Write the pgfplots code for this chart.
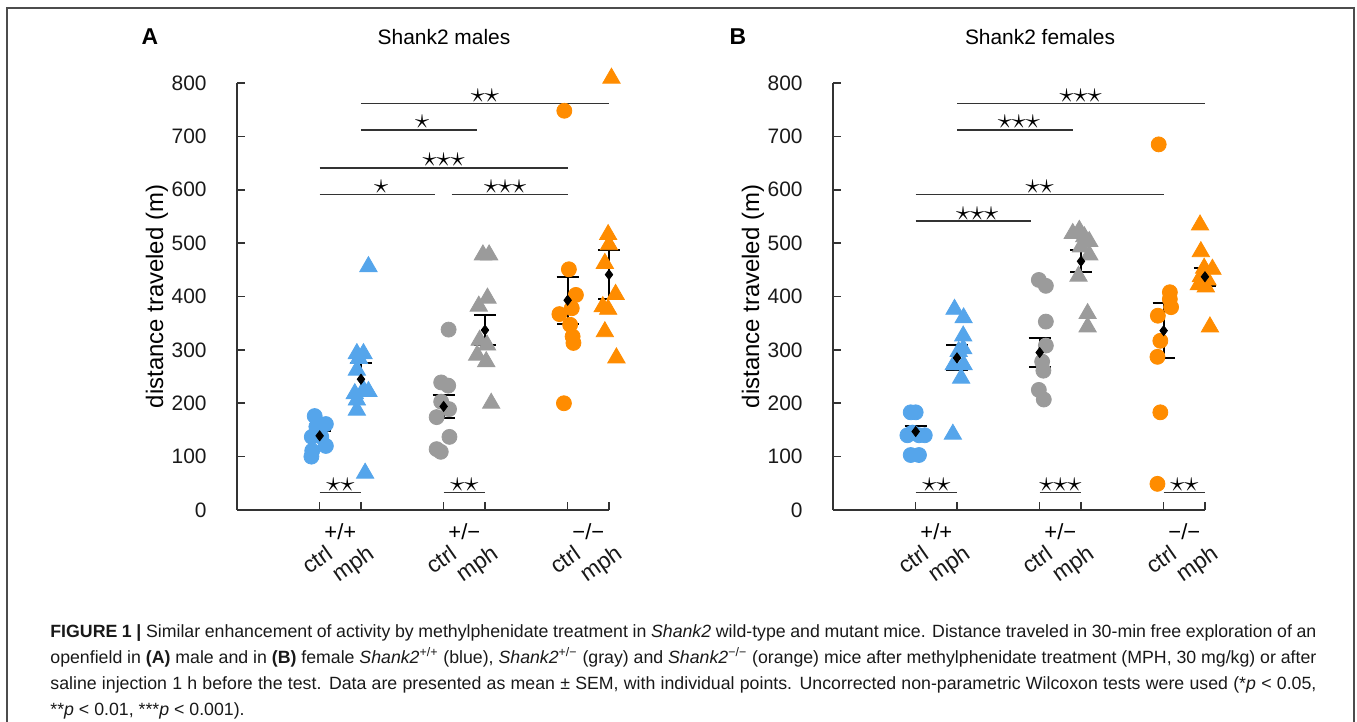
\documentclass[border=0pt]{standalone}
\usepackage{fontspec}
\setmainfont{Liberation Sans}
\usepackage{pgfplots}
\pgfplotsset{compat=1.18}
\definecolor{cblue}{HTML}{55A5EB}
\definecolor{corange}{HTML}{FF8C00}
\definecolor{cgray}{HTML}{9B9B9B}
\definecolor{axc}{HTML}{333333}
\pgfplotsset{
 myaxis/.style={
  scale only axis, width=186bp, height=213.5bp,
  xmin=-2, xmax=7, ymin=0, ymax=800,
  axis lines=left, axis line style={-, line width=0.75bp, color=axc},
  tick align=inside, major tick length=4bp, tick style={line width=0.75bp, color=axc},
  xtick={0,1,3,4,6,7}, xticklabels={ctrl,mph,ctrl,mph,ctrl,mph},
  ytick={0,100,...,800},
  clip=false,
  ticklabel style={font=\fontsize{10.5}{12}\selectfont, text=black!90},
  yticklabel style={anchor=east, inner sep=0pt, xshift=-15bp},
  xticklabel style={inner sep=0pt, anchor=north east, yshift=-16.5bp, xshift=2.5bp, rotate=35, font=\fontsize{11.5}{12}\selectfont},
  ylabel={distance traveled (m)},
  ylabel style={at={(axis description cs:-0.215,0.5)}, anchor=center, font=\fontsize{12}{14}\selectfont},
  /pgf/number format/assume math mode=true,
 },
 circ/.style={color=#1, only marks, mark=*, mark size=3.75bp, mark options={draw=none, fill=#1}},
 tri/.style={color=#1, only marks, mark=triangle*, mark size=5bp, mark options={draw=none, fill=#1}},
 meanbar/.style={black, only marks, mark=diamond*, mark size=2.5bp,
   error bars/.cd, y dir=both, y explicit,
   error bar style={line width=1bp, black},
   error mark options={rotate=90, mark size=5.5bp, line width=1bp, black}},
 sigline/.style={line width=0.75bp, color=axc, no marks},
}
\tikzset{starnode/.style={anchor=base, inner sep=0pt, yshift=0.5bp, font=\fontsize{15}{15}\selectfont}}
\newcommand\grouplabels{%
  \node[font=\fontsize{11}{12}\selectfont, yshift=-11bp] at (axis cs:0.5,0) {+/+};
  \node[font=\fontsize{11}{12}\selectfont, yshift=-11bp] at (axis cs:3.5,0) {+/−};
  \node[font=\fontsize{11}{12}\selectfont, yshift=-11bp] at (axis cs:6.5,0) {−/−};
}
\begin{document}
\begin{tikzpicture}
\useasboundingbox (0bp,0bp) rectangle (678.5bp,361bp);
\draw[line width=0.75bp, black!70] (3.5bp,-2bp) -- (3.5bp,357bp) -- (677bp,357bp) -- (677bp,-2bp);
\node[font=\bfseries\fontsize{11.5}{12}\selectfont] at (75bp,342.5bp) {A};
\node[font=\fontsize{10.5}{12}\selectfont] at (222bp,342.5bp) {Shank2 males};
\node[font=\bfseries\fontsize{11.5}{12}\selectfont] at (369bp,342.5bp) {B};
\node[font=\fontsize{10.5}{12}\selectfont] at (520bp,342.5bp) {Shank2 females};

% ---------------- Panel A ----------------
\begin{axis}[myaxis, at={(118.5bp,106bp)}, anchor=south west]
\addplot[circ=cblue] coordinates {(-0.12,176) (0.15,161) (-0.08,156) (-0.19,137) (0.04,137) (0.15,120) (-0.18,111) (-0.2,100)};
\addplot[tri=cblue] coordinates {(1.18,456) (0.9,293) (1.06,293) (0.95,284) (0.9,262) (1.18,222) (1.06,225) (0.85,218) (0.9,206) (0.9,187) (1.1,69)};
\addplot[circ=cgray] coordinates {(3.12,338) (2.94,239) (3.11,233) (2.94,203) (3.13,189) (2.83,174) (3.14,137) (2.83,114) (2.93,109)};
\addplot[tri=cgray] coordinates {(3.95,478) (4.1,478) (4.06,397) (3.85,382) (3.87,318) (4.05,309) (3.81,290) (4.03,278) (4.15,200)};
\addplot[circ=corange] coordinates {(5.92,748) (6.03,451) (6.2,403) (6.1,378) (5.8,367) (6.06,347) (6.12,325) (6.14,313) (5.91,200)};
\addplot[tri=corange] coordinates {(7.06,809) (6.98,516) (7,497) (6.9,462) (7.16,404) (6.85,381) (6.98,376) (6.9,334) (7.18,285)};
\addplot[meanbar] coordinates {(0,139) +- (0,9) (1,245) +- (0,31) (3,194) +- (0,22) (4,337) +- (0,28.5) (6,393) +- (0,44) (7,441) +- (0,46)};
\addplot[sigline] coordinates {(1,762) (7,762)};
\node[starnode] at (axis cs:4,762) {${\star}{\star}$};
\addplot[sigline] coordinates {(1,712) (3.8,712)};
\node[starnode] at (axis cs:2.48,712) {${\star}$};
\addplot[sigline] coordinates {(0,641) (6,641)};
\node[starnode] at (axis cs:3,641) {${\star}{\star}{\star}$};
\addplot[sigline] coordinates {(0,591) (2.8,591)};
\node[starnode] at (axis cs:1.49,591) {${\star}$};
\addplot[sigline] coordinates {(3.19,591) (6,591)};
\node[starnode] at (axis cs:4.49,591) {${\star}{\star}{\star}$};
\addplot[sigline] coordinates {(0,32.5) (1,32.5)};
\node[starnode] at (axis cs:0.5,32.5) {${\star}{\star}$};
\addplot[sigline] coordinates {(3,32.5) (4,32.5)};
\node[starnode] at (axis cs:3.5,32.5) {${\star}{\star}$};
\grouplabels
\end{axis}

% ---------------- Panel B ----------------
\begin{axis}[myaxis, at={(416.5bp,106bp)}, anchor=south west]
\addplot[circ=cblue] coordinates {(-0.12,183) (0,183) (-0.2,140) (0.08,140) (-0.08,145) (0.22,140) (-0.12,103) (0.08,103)};
\addplot[tri=cblue] coordinates {(0.94,376) (1.16,360) (1.15,326) (1.15,302) (1.04,297) (0.92,272) (1.16,272) (1.1,247) (0.9,142)};
\addplot[circ=cgray] coordinates {(2.98,431) (3.15,420) (3.15,353) (3.15,308) (3.06,278) (3.09,261) (2.98,225) (3.1,207)};
\addplot[tri=cgray] coordinates {(3.8,518) (3.96,524) (4.08,512) (4.2,503) (4,493) (4.2,478) (3.94,438) (4.16,368) (4.16,343)};
\addplot[circ=corange] coordinates {(5.88,685) (6.15,408) (6.15,395) (6.18,380) (5.86,364) (5.92,317) (5.85,287) (5.92,183) (5.85,49)};
\addplot[tri=corange] coordinates {(6.88,534) (6.9,484) (6.98,453) (7.18,451) (6.9,437) (7.06,431) (6.85,422) (7.02,418) (7.12,343)};
\addplot[meanbar] coordinates {(0,147) +- (0,10) (1,285) +- (0,23.5) (3,295) +- (0,26.5) (4,466) +- (0,21) (6,336) +- (0,52) (7,437) +- (0,16.5)};
\addplot[sigline] coordinates {(1,762) (7,762)};
\node[starnode] at (axis cs:3.99,762) {${\star}{\star}{\star}$};
\addplot[sigline] coordinates {(1,712) (3.8,712)};
\node[starnode] at (axis cs:2.5,712) {${\star}{\star}{\star}$};
\addplot[sigline] coordinates {(0,591) (6,591)};
\node[starnode] at (axis cs:3,591) {${\star}{\star}$};
\addplot[sigline] coordinates {(0,541) (2.8,541)};
\node[starnode] at (axis cs:1.49,541) {${\star}{\star}{\star}$};
\addplot[sigline] coordinates {(0,32.5) (1,32.5)};
\node[starnode] at (axis cs:0.5,32.5) {${\star}{\star}$};
\addplot[sigline] coordinates {(3,32.5) (4,32.5)};
\node[starnode] at (axis cs:3.5,32.5) {${\star}{\star}{\star}$};
\addplot[sigline] coordinates {(6,32.5) (7,32.5)};
\node[starnode] at (axis cs:6.5,32.5) {${\star}{\star}$};
\grouplabels
\end{axis}

% ---------------- Caption ----------------
\node[anchor=base west, inner sep=0pt] at (25bp,48.5bp) {%
\begin{minipage}[t]{633bp}\fontsize{8.9}{13}\selectfont\color{black!90}%
\textbf{FIGURE 1 |} Similar enhancement of activity by methylphenidate treatment in \textit{Shank2} wild-type and mutant mice. Distance traveled in 30-min free exploration of an\linebreak
openfield in \textbf{(A)} male and in \textbf{(B)} female \textit{Shank2}\textsuperscript{+/+} (blue), \textit{Shank2}\textsuperscript{+/−} (gray) and \textit{Shank2}\textsuperscript{−/−} (orange) mice after methylphenidate treatment (MPH, 30 mg/kg) or after\linebreak
saline injection 1 h before the test. Data are presented as mean ± SEM, with individual points. Uncorrected non-parametric Wilcoxon tests were used (*\textit{p} < 0.05,\linebreak
**\textit{p} < 0.01, ***\textit{p} < 0.001).
\end{minipage}};
\end{tikzpicture}
\end{document}
